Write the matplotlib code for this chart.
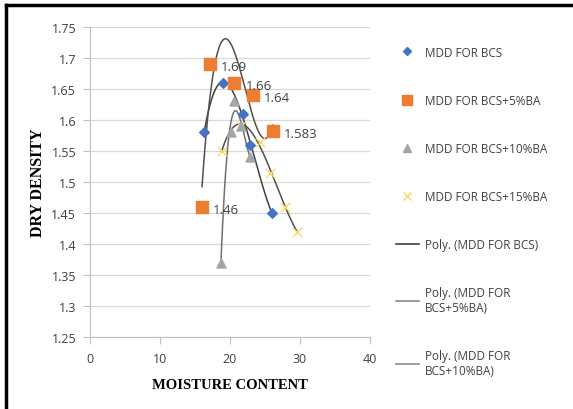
import matplotlib
matplotlib.use("Agg")
import matplotlib.pyplot as plt
from matplotlib.lines import Line2D
import numpy as np

# moisture content / dry density
mc_bcs = [16.3, 19.0, 21.8, 22.9, 26.0]
dd_bcs = [1.58, 1.66, 1.61, 1.56, 1.45]
mc_5 = [16.0, 17.1, 20.6, 23.3, 26.1]
dd_5 = [1.46, 1.69, 1.66, 1.64, 1.583]
lab_5 = ["1.46", "1.69", "1.66", "1.64", "1.583"]
mc_10 = [18.7, 20.1, 20.5, 21.6, 22.9]
dd_10 = [1.37, 1.58, 1.63, 1.59, 1.54]
mc_15 = [18.8, 21.6, 24.3, 25.7, 27.9, 29.6]
dd_15 = [1.55, 1.59, 1.565, 1.515, 1.46, 1.42]

c_blue = "#4472C4"
c_orange = "#ED7D31"
c_gray = "#A5A5A5"
c_yellow = "#FFD966"

sans = "Open Sans"
serif = "Liberation Serif"

fig = plt.figure(figsize=(5.73, 4.10), dpi=100)
ax = fig.add_axes([90/573, 1-338/410, 280/573, 310/410])

def trend(x, y, color, lw=1.1):
    p = np.polyfit(x, y, 3)
    xs = np.linspace(min(x), max(x), 200)
    ax.plot(xs, np.polyval(p, xs), color=color, lw=lw, zorder=2)

trend(mc_bcs, dd_bcs, "#404040")
trend(mc_5, dd_5, "#505050")
trend(mc_10, dd_10, "#707070")
trend(mc_15, dd_15, "#505050")

ax.scatter(mc_15, dd_15, marker="x", s=45, color=c_yellow, lw=1.0, zorder=3)
ax.scatter(mc_bcs, dd_bcs, marker="D", s=24, color=c_blue, zorder=3)
ax.scatter(mc_5, dd_5, marker="s", s=70, color=c_orange, zorder=3)
ax.scatter(mc_10, dd_10, marker="^", s=42, color=c_gray, zorder=3)

for x, y, t in zip(mc_5, dd_5, lab_5):
    ax.annotate(t, (x, y), xytext=(8, -2), textcoords="offset points",
                ha="left", va="center", fontsize=9.5, family=sans, color="#404040")

ax.set_xlim(0, 40)
ax.set_ylim(1.25, 1.75)
ax.set_xticks([0, 10, 20, 30, 40])
ax.set_yticks(np.arange(1.25, 1.76, 0.05))
ax.set_yticklabels(["1.25", "1.3", "1.35", "1.4", "1.45", "1.5", "1.55", "1.6", "1.65", "1.7", "1.75"])
ax.grid(axis="y", color="#D9D9D9", lw=0.9)
ax.set_axisbelow(True)
for s in ["top", "right"]:
    ax.spines[s].set_visible(False)
for s in ["left", "bottom"]:
    ax.spines[s].set_color("#BFBFBF")
ax.tick_params(colors="#BFBFBF", labelcolor="#404040", length=5, width=0.8, labelsize=9)
ax.tick_params(axis="y", pad=5)
ax.tick_params(axis="x", pad=6)
for lbl in ax.get_xticklabels() + ax.get_yticklabels():
    lbl.set_family(sans)

ax.set_xlabel("MOISTURE CONTENT", family=serif, fontweight="bold", fontsize=10.5, labelpad=9)
ax.set_ylabel("DRY DENSITY", family=serif, fontweight="bold", fontsize=11.5)
ax.yaxis.set_label_coords(-0.158, 0.5)

handles = [
    Line2D([], [], ls="", marker="D", ms=4, color=c_blue),
    Line2D([], [], ls="", marker="s", ms=7, color=c_orange),
    Line2D([], [], ls="", marker="^", ms=6, color=c_gray),
    Line2D([], [], ls="", marker="x", ms=6, color=c_yellow),
    Line2D([], [], color="#404040", lw=1.2),
    Line2D([], [], color="#8C8C8C", lw=1.2),
    Line2D([], [], color="#8C8C8C", lw=1.2),
]
labels = ["MDD FOR BCS", "MDD FOR BCS+5%BA", "MDD FOR BCS+10%BA", "MDD FOR BCS+15%BA",
          "Poly. (MDD FOR BCS)", "Poly. (MDD FOR\nBCS+5%BA)", "Poly. (MDD FOR\nBCS+10%BA)"]
fig.legend(handles, labels, loc="upper left", bbox_to_anchor=(385/573, 1-36/410),
           frameon=False, prop={"family": sans, "size": 8.5}, labelspacing=2.97,
           handlelength=2.0, handletextpad=0.5, labelcolor="#404040")

# frame of the original picture (top and left edges visible)
fig.add_artist(Line2D([6/573, 6/573], [0, 1-6/410], color="black", lw=2.5, transform=fig.transFigure))
fig.add_artist(Line2D([6/573, 1], [1-6/410, 1-6/410], color="black", lw=2.5, transform=fig.transFigure))

fig.savefig("out.png", dpi=100)
